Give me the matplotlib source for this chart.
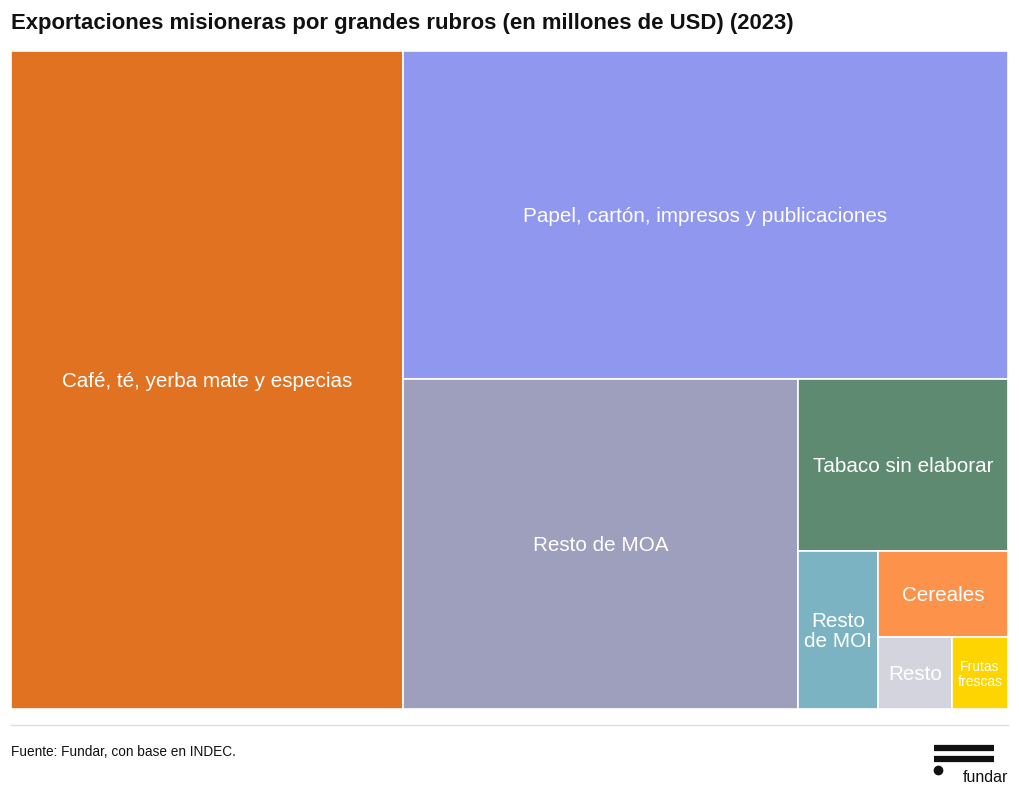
import matplotlib.pyplot as plt
from matplotlib.patches import Rectangle

# datos (millones de USD, 2023)
rubros = ["Café, té, yerba mate y especias", "Papel, cartón, impresos y publicaciones",
          "Resto de MOA", "Tabaco sin elaborar", "Resto\nde MOI", "Cereales", "Resto",
          "Frutas\nfrescas"]
valores = [165.1, 127.0, 83.5, 23.1, 8.1, 7.2, 3.4, 2.6]
colores = ["#E07222", "#8F97EF", "#9D9FBD", "#5E8A71", "#7CB3C2", "#FD934B", "#D4D4DE", "#FFD500"]
tam_fuente = [14.9, 14.9, 14.9, 14.9, 14.9, 14.9, 14.9, 10]


def worst(row, w):
    s = sum(row)
    return max(max(w * w * r / (s * s), (s * s) / (w * w * r)) for r in row)


def layout_row(row, x, y, dx, dy):
    # devuelve rectangulos de la fila y el espacio que queda
    s = sum(row)
    rects = []
    if dx >= dy:
        ancho = s / dy
        yy = y
        for r in row:
            h = r / ancho
            rects.append((x, yy, ancho, h))
            yy += h
        return rects, (x + ancho, y, dx - ancho, dy)
    alto = s / dx
    xx = x
    for r in row:
        w = r / alto
        rects.append((xx, y, w, alto))
        xx += w
    return rects, (x, y + alto, dx, dy - alto)


def squarify(vals, x, y, dx, dy):
    rects = []
    vals = list(vals)
    while vals:
        lado = min(dx, dy)
        row = [vals.pop(0)]
        while vals and worst(row + [vals[0]], lado) <= worst(row, lado):
            row.append(vals.pop(0))
        r, (x, y, dx, dy) = layout_row(row, x, y, dx, dy)
        rects += r
    return rects


W, H = 997, 658
total = sum(valores)
areas = [v * W * H / total for v in valores]
rects = squarify(areas, 0, 0, W, H)

fig = plt.figure(figsize=(10.2, 7.97), dpi=100)
ax = fig.add_axes([11 / 1020, 88 / 797, 997 / 1020, 658 / 797])
ax.set_xlim(0, W)
ax.set_ylim(H, 0)
ax.axis("off")

for (x, y, w, h), lab, c, fs in zip(rects, rubros, colores, tam_fuente):
    ax.add_patch(Rectangle((x, y), w, h, facecolor=c, edgecolor="white", linewidth=1.2))
    ax.text(x + w / 2, y + h / 2 + 1.5, lab, ha="center", va="center", color="white",
            fontsize=fs, family="Liberation Sans", linespacing=1.1)

fig.text(11 / 1020, 1 - 23 / 797, "Exportaciones misioneras por grandes rubros (en millones de USD) (2023)",
         fontsize=15.9, fontweight="bold", family="Liberation Sans", va="center", color="#111111")
fig.add_artist(plt.Line2D([11 / 1020, 1008 / 1020], [1 - 725 / 797] * 2, color="#dddddd", lw=1))
fig.text(11 / 1020, 1 - 752 / 797, "Fuente: Fundar, con base en INDEC.", fontsize=9.8,
         family="Liberation Sans", va="center", color="#111111")

# logo
for yy in (748, 759):
    fig.add_artist(plt.Line2D([934 / 1020, 994 / 1020], [1 - yy / 797] * 2, color="#111111", lw=4.5,
                              solid_capstyle="butt"))
fig.add_artist(plt.Line2D([938 / 1020], [1 - 770 / 797], marker="o", markersize=6, color="#111111"))
fig.text(963 / 1020, 1 - 777 / 797, "fundar", fontsize=11.5, family="Liberation Sans", va="center",
         color="#111111")

fig.savefig("out.png", dpi=100)
